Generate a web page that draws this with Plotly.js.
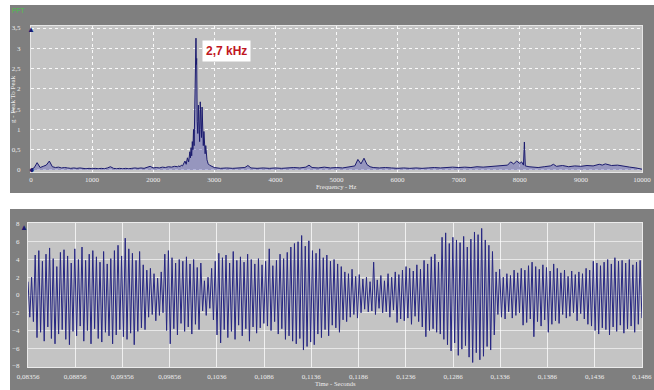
<!DOCTYPE html>
<html><head><meta charset="utf-8">
<script src="https://cdn.plot.ly/plotly-3.0.1.min.js"></script>
<style>
html,body{margin:0;padding:0;background:#fff;width:654px;height:390px;overflow:hidden}
#spec{position:absolute;left:10px;top:5px;width:644px;height:188px}
#wave{position:absolute;left:10px;top:209px;width:644px;height:181px}
</style></head><body>
<div id="spec"></div><div id="wave"></div>
<script>
// ---- Spectrum (top) ----
const freqHz = [
 0,50,100,150,200,250,300,350,400,450,500,550,600,650,700,750,800,850,900,950,
 1000,1050,1100,1150,1200,1250,1300,1350,1400,1450,1500,1550,1600,1650,1700,1750,1800,1850,1900,1950,
 2000,2050,2100,2150,2200,2250,2300,2350,
 2400,2420,2440,2460,2480,2500,2520,2540,2560,2580,2600,2610,2620,2630,2640,2650,2660,2670,2680,2690,
 2700,2705,2712,2720,2730,2740,2750,2760,2770,2780,2790,2800,2810,2820,2830,2840,2850,2860,2870,2880,
 2890,2900,2920,2940,2960,2980,
 3000,3100,3200,3300,3400,3500,3550,3600,3700,3800,3900,4000,4100,4200,4300,4400,4500,4550,4600,4700,
 4800,4900,5000,5100,5200,5300,5350,5400,5450,5500,5550,5600,5700,5800,5900,6000,6100,6200,6300,6400,
 6500,6600,6700,6800,6900,7000,7100,7200,7300,7400,7500,7600,7700,7800,7850,7900,7950,8000,8030,8060,
 8075,8090,8150,8200,8300,8400,8500,8550,8600,8700,8800,8900,9000,9100,9200,9300,9350,9400,9500,9600,
 9700,9800,9900,10000
];
const ampG = [
 0.02,0.05,0.18,0.06,0.09,0.12,0.22,0.08,0.06,0.07,0.05,0.06,0.05,0.04,0.05,0.04,0.05,0.04,0.03,0.04,
 0.03,0.04,0.03,0.04,0.03,0.05,0.08,0.04,0.03,0.04,0.03,0.04,0.03,0.04,0.05,0.04,0.05,0.04,0.06,0.09,
 0.05,0.06,0.05,0.07,0.06,0.08,0.07,0.09,
 0.08,0.10,0.08,0.12,0.10,0.15,0.22,0.14,0.30,0.20,0.45,0.30,0.55,0.35,0.70,0.50,1.00,0.60,1.40,2.00,
 3.25,2.60,2.75,1.20,0.90,1.60,1.00,0.70,1.68,1.10,0.80,1.55,0.90,0.60,0.95,0.50,0.40,0.60,0.30,0.25,
 0.20,0.15,0.12,0.10,0.08,0.07,
 0.06,0.04,0.05,0.04,0.05,0.06,0.11,0.05,0.04,0.05,0.04,0.05,0.04,0.05,0.06,0.05,0.07,0.12,0.06,0.05,
 0.07,0.05,0.06,0.05,0.07,0.10,0.26,0.15,0.29,0.13,0.08,0.06,0.05,0.06,0.05,0.04,0.05,0.04,0.05,0.04,
 0.05,0.06,0.05,0.06,0.07,0.06,0.07,0.06,0.08,0.07,0.08,0.09,0.10,0.12,0.20,0.15,0.22,0.16,0.20,0.12,
 0.69,0.10,0.08,0.07,0.06,0.08,0.10,0.14,0.09,0.11,0.08,0.10,0.09,0.11,0.10,0.14,0.12,0.15,0.11,0.12,
 0.09,0.07,0.05,0.02
];
const specXRange = [0, 10000];
const specYRange = [-0.05, 3.55];
const peakLabel = '2,7 kHz';
const specXTitle = 'Frequency - Hz';
const specYTitle = 'g - Peak To Peak';
const specTag = 'FFT';

// ---- Time signal (bottom) ----
const waveStart = 0.08356, waveEnd = 0.14856;
const waveG = [
 1.5,-2.5,2,-3,
 4.5,-4.8,5.0,-4.2,3.8,-5.2,4.6,-3.6,5.3,-4.9,4.1,-5.5,3.2,-4.4,4.8,-3.9,5.1,-5.0,4.4,-5.6,3.6,-4.1,
 5.2,-4.6,4.0,-3.5,5.4,-5.2,3.9,-4.0,4.6,-5.5,5.0,-3.8,4.3,-4.9,3.7,-5.3,4.9,-4.2,3.5,-4.6,
 4.1,-5.5,5.0,-4.5,5.6,-3.9,4.4,-4.7,6.4,-5.0,5.2,-4.3,4.7,-5.6,3.9,-4.1,4.9,-3.7,3.4,-3.9,
 2.8,-2.5,3.0,-2.2,2.4,-2.9,1.9,-2.3,2.6,-2.0,
 4.6,-4.0,5.0,-5.5,4.2,-3.8,3.6,-4.5,4.0,-3.2,
 3.8,-4.1,4.3,-3.6,3.5,-4.4,4.0,-3.3,3.1,-3.9,3.6,
 -1.8,1.6,-2.3,2.0,-1.5,3.0,-2.8,3.8,
 -4.5,4.7,-5.4,4.2,-3.9,4.5,-4.8,3.6,-4.1,4.9,-5.0,3.9,-3.4,4.3,-4.6,3.7,-3.8,4.6,-5.2,4.0,-3.6,3.5,-4.3,4.1,-3.7,
 3.4,-3.2,3.8,-3.5,5.2,-4.0,3.3,-3.0,3.9,-4.4,4.6,-3.8,4.1,-5.0,4.8,-4.6,5.4,
 -5.2,5.8,-5.5,6.0,-4.9,6.7,-6.2,5.5,-5.8,6.1,-5.3,5.0,-5.6,4.7,-4.4,5.2,-4.8,
 4.2,-3.9,4.5,-4.6,3.8,-3.4,4.0,-3.7,3.5,-4.2,3.2,
 -2.8,2.6,-3.0,2.4,-2.5,2.9,-2.2,2.1,-2.6,2.3,-2.0,
 1.8,-1.6,2.0,-1.9,1.5,-1.8,3.7,-2.2,1.7,-1.5,2.2,-2.0,1.6,-1.9,2.4,-2.5,2.0,-1.7,2.6,-3.1,2.3,-2.7,
 2.8,-2.9,3.2,-2.6,3.0,-3.3,2.7,-2.4,3.4,-3.0,2.9,
 -3.6,3.9,-4.7,3.5,-4.0,4.3,-3.8,4.6,-4.2,3.7,-4.4,
 6.5,-5.0,7.0,-5.6,5.8,-6.3,6.5,-5.4,6.2,-6.8,5.9,-6.1,6.6,-5.7,5.4,-7.0,6.3,-7.6,7.1,-6.5,6.8,-7.3,7.5,-6.9,6.2,-5.8,5.6,-6.2,4.9,-4.5,
 2.6,-2.2,2.9,-2.5,2.0,-2.7,2.4,-1.9,2.2,-2.6,2.8,-2.3,2.5,-2.0,
 3.0,-3.4,2.8,-3.1,3.3,-2.7,3.7,-4.7,3.2,-3.0,2.9,-3.5,3.4,-2.8,3.1,-4.2,2.7,-3.3,3.5,-2.9,3.0,-3.2,
 2.5,-2.2,2.8,-2.6,2.1,-2.4,2.7,-2.0,2.3,-2.9,2.6,-2.1,2.4,-2.7,3.0,-3.3,2.8,
 -3.5,3.8,-4.0,3.6,-4.4,3.3,-3.7,3.7,-3.9,4.0,-4.5,3.5,-3.6,4.2,-4.1,3.8,-3.4,3.9,-4.3,3.6,-3.8,4.0,-3.5,3.4,-4.2,3.7,-3.3,3.9,-2.6
];
const waveYRange = [-8.11, 8.11];
const waveXTitle = 'Time - Seconds';

// uniform sample grid of the recording
const dt = (waveEnd - waveStart) / (waveG.length - 1);
const waveT = waveG.map((_, i) => waveStart + i * dt);

const tickFont = {family: 'Liberation Serif, serif', size: 7, color: '#ededed'};
const titleFont = {family: 'Liberation Serif, serif', size: 6.5, color: '#ededed'};
const frameBg = '#7f7f7f', plotBg = '#c4c4c4';
const cfg = {staticPlot: true, displayModeBar: false};

Plotly.newPlot('spec', [{
  x: freqHz, y: ampG, type: 'scatter', mode: 'lines',
  line: {color: '#1b1b6e', width: 1},
  fill: 'tozeroy', fillcolor: 'rgba(95,95,185,0.45)', hoverinfo: 'skip'
}], {
  width: 644, height: 188, margin: {l: 21, r: 12, t: 21, b: 21},
  paper_bgcolor: frameBg, plot_bgcolor: plotBg, separators: ', ', showlegend: false,
  xaxis: {range: specXRange, tickmode: 'linear', tick0: 0, dtick: 1000, tickformat: 'd',
    showgrid: true, gridcolor: 'rgba(255,255,255,0.9)', griddash: 'dot', gridwidth: 1,
    zeroline: false, showline: true, linecolor: '#e6e6e6', mirror: true,
    ticks: '', tickfont: tickFont, ticklabelstandoff: 1},
  yaxis: {range: specYRange, tickmode: 'linear', tick0: 0, dtick: 0.5,
    showgrid: true, gridcolor: 'rgba(255,255,255,0.9)', griddash: 'dot', gridwidth: 1,
    zeroline: false, showline: true, linecolor: '#e6e6e6', mirror: true,
    ticks: '', tickfont: tickFont, ticklabelstandoff: 8},
  annotations: [
    {text: '<b>' + peakLabel + '</b>', xref: 'paper', yref: 'paper', x: 0.28, y: 0.905,
     xanchor: 'left', yanchor: 'top', showarrow: false, bgcolor: '#ffffff', borderpad: 3,
     font: {family: 'Liberation Sans, Arial, sans-serif', size: 12, color: '#c0161e'}},
    {text: specXTitle, xref: 'paper', yref: 'paper', x: 0.5, y: -0.138, xanchor: 'center', yanchor: 'bottom',
     showarrow: false, font: titleFont},
    {text: specYTitle, xref: 'paper', yref: 'paper', x: -0.0295, y: 0.5, xanchor: 'center', yanchor: 'middle',
     textangle: -90, showarrow: false, font: tickFont},
    {text: specTag, xref: 'paper', yref: 'paper', x: -0.034, y: 1.145, xanchor: 'left', yanchor: 'top',
     showarrow: false, font: {family: 'Liberation Sans, sans-serif', size: 7, color: '#4cc24c'}},
    {text: '▲', xref: 'paper', yref: 'y', x: 0, y: specYRange[1] - 0.05, xanchor: 'center', yanchor: 'middle',
     showarrow: false, font: {size: 8, color: '#1a1a72'}},
    {text: '●', xref: 'paper', yref: 'y', x: 0, y: 0.02, xanchor: 'center', yanchor: 'middle',
     showarrow: false, font: {size: 9, color: '#1a1a72'}}
  ]
}, cfg);

Plotly.newPlot('wave', [{
  x: waveT, y: waveG, type: 'scatter', mode: 'lines',
  line: {color: '#262682', width: 1}, hoverinfo: 'skip'
}], {
  width: 644, height: 181, margin: {l: 18, r: 12, t: 14, b: 23},
  paper_bgcolor: frameBg, plot_bgcolor: plotBg, separators: ', ', showlegend: false,
  xaxis: {range: [waveStart, waveEnd + 0.00001], tickmode: 'linear', tick0: waveStart, dtick: 0.005,
    tickformat: '.4r', showgrid: true, gridcolor: 'rgba(255,255,255,0.75)', gridwidth: 1,
    zeroline: false, showline: true, linecolor: '#ececec', mirror: true,
    ticks: '', tickfont: tickFont, ticklabelstandoff: 3},
  yaxis: {range: waveYRange, tickmode: 'linear', tick0: 0, dtick: 2,
    showgrid: true, gridcolor: 'rgba(255,255,255,0.6)', gridwidth: 1,
    zeroline: false, showline: true, linecolor: '#ececec', mirror: true,
    ticks: '', tickfont: tickFont, ticklabelstandoff: 6},
  annotations: [
    {text: waveXTitle, xref: 'paper', yref: 'paper', x: 0.5, y: -0.15, xanchor: 'center', yanchor: 'bottom',
     showarrow: false, font: titleFont},
    {text: '▲', xref: 'paper', yref: 'y', x: -0.006, y: 7.7, xanchor: 'center', yanchor: 'middle',
     showarrow: false, font: {size: 8, color: '#1a1a72'}}
  ]
}, cfg);
</script>
</body></html>
